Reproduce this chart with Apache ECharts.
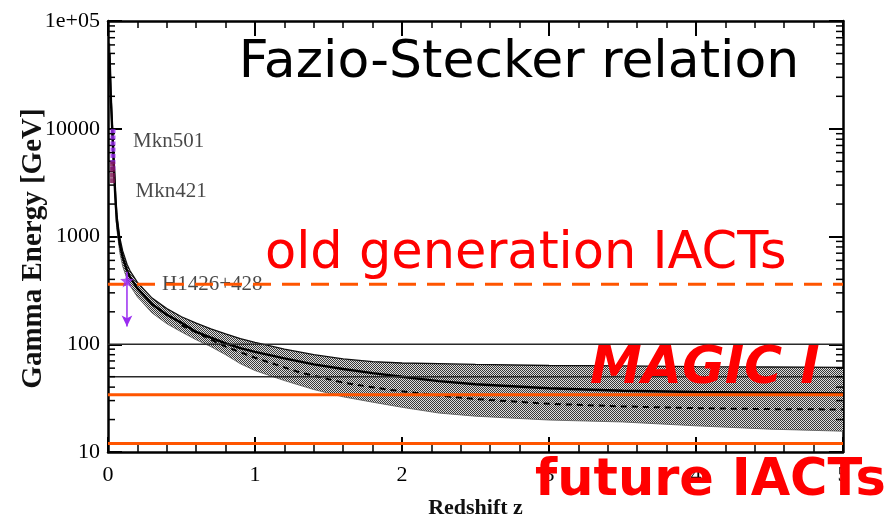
<!DOCTYPE html>
<html>
<head>
<meta charset="utf-8">
<script src="https://cdn.jsdelivr.net/npm/echarts@6/dist/echarts.min.js"></script>
<style>
  html, body { margin: 0; padding: 0; background: #ffffff; }
  #chart { width: 895px; height: 521px; }
</style>
</head>
<body>
<div id="chart"></div>
<script>
// Redshift grid of the gamma-ray horizon curves
const redshift = [0.01, 0.02, 0.03, 0.04, 0.05, 0.06, 0.08, 0.1, 0.13, 0.15, 0.2, 0.3, 0.4, 0.5, 0.6, 0.7, 0.8, 0.9, 1.0, 1.2, 1.4, 1.6, 1.8, 2.0, 2.25, 2.5, 3.0, 3.5, 4.0, 4.5, 5.0];
// Central prediction of the horizon energy [GeV]
const horizonCentral = [50000, 18000, 9000, 4500, 2300, 1400, 850, 640, 480, 420, 330, 235, 188, 158, 130, 115, 102, 92, 85, 74, 65, 59, 54, 50, 45.5, 42.5, 39, 37, 36, 35.5, 35];
// Upper and lower edges of the uncertainty band [GeV]
const horizonUpper = [62000, 21500, 10800, 5400, 2700, 1620, 980, 735, 550, 480, 375, 268, 214, 180, 157, 139, 125, 113, 104, 90, 80, 73, 69, 67, 66, 65, 63.5, 63, 62, 61.5, 61];
const horizonLower = [42000, 15000, 7500, 3750, 1920, 1170, 710, 530, 400, 350, 275, 195, 155, 130, 110, 95, 80, 66, 57, 46, 38, 32.5, 29, 26, 23, 21.5, 19.8, 19, 17.5, 16.3, 15.6];
// Alternative model (dashed)
const dashedRedshift = [0.5, 0.8, 1.0, 1.3, 1.6, 1.9, 2.2, 2.5, 3.0, 3.5, 4.0, 4.5, 5.0];
const horizonDashed = [150, 95, 75, 55, 44, 38, 34, 31, 28, 26.5, 25.5, 25, 24.8];

// Sources
const mkn501Z = 0.034;
const mkn501E = [9500, 8300, 7300, 6400, 5600, 4900, 4300];
const mkn421Z = 0.031;
const mkn421E = [4700, 4200, 3700, 3300];
const h1426Z = 0.129;
const h1426E = 390;
const h1426Range = [470, 146];

// Energy thresholds [GeV]
const oldIactThreshold = 360;
const magicThreshold = 34;
const futureThreshold = 12;
const referenceLevels = [100, 50];

// Axis ticks
const xTicks = [0, 1, 2, 3, 4, 5];
const yDecades = [10, 100, 1000, 10000, 100000];
const yTickLabels = ['10', '100', '1000', '10000', '1e+05'];
const yMinorMultipliers = [2, 3, 4, 5, 6, 7, 8, 9];

const yMinorValues = [];
yDecades.slice(0, -1).forEach(d => yMinorMultipliers.forEach(m => yMinorValues.push(d * m)));

// Stipple fill for the uncertainty band
const stipple = document.createElement('canvas');
stipple.width = 2; stipple.height = 2;
(function () {
  const c = stipple.getContext('2d');
  c.fillStyle = '#dedede'; c.fillRect(0, 0, 2, 2);
  c.fillStyle = '#383838'; c.fillRect(0, 0, 1, 1); c.fillRect(1, 1, 1, 1);
})();

const serif = "'Liberation Serif', 'Times New Roman', serif";
const sans = "'DejaVu Sans', sans-serif";
const orange = '#ff5500';
const red = '#ff0000';
const purple = '#9a2cf0';

const pairs = (xs, ys) => xs.map((x, i) => [x, ys[i]]);
const flat = (v) => [[xTicks[0], v], [xTicks[xTicks.length - 1], v]];

const axisLine = { show: true, onZero: false, lineStyle: { color: '#000', width: 2.5 } };
const majorTick = { show: true, inside: true, length: 15, lineStyle: { color: '#000', width: 2 } };
const minorTick = { show: true, splitNumber: 5, length: 7, lineStyle: { color: '#000', width: 1.5 } };

const chart = echarts.init(document.getElementById('chart'), null, { renderer: 'canvas' });

chart.setOption({
  animation: false,
  backgroundColor: '#ffffff',
  grid: { left: 108, right: 52, top: 21, bottom: 69, show: false, containLabel: false, outerBoundsMode: 'none' },
  xAxis: [
    {
      type: 'value', min: xTicks[0], max: xTicks[xTicks.length - 1], interval: 1, position: 'bottom',
      axisLine, axisTick: majorTick, minorTick, splitLine: { show: false },
      axisLabel: { fontFamily: serif, fontSize: 22, color: '#000', margin: 12 },
      name: 'Redshift z', nameLocation: 'middle', nameGap: 45,
      nameTextStyle: { fontFamily: serif, fontSize: 22, fontWeight: 'bold', color: '#111' }
    },
    {
      type: 'value', min: xTicks[0], max: xTicks[xTicks.length - 1], interval: 1, position: 'top',
      axisLine, axisTick: majorTick, minorTick, splitLine: { show: false },
      axisLabel: { show: false }
    }
  ],
  yAxis: [
    {
      type: 'log', logBase: 10, min: yDecades[0], max: yDecades[yDecades.length - 1], position: 'left',
      axisLine, axisTick: { ...majorTick, length: 14 }, splitLine: { show: false },
      axisLabel: {
        fontFamily: serif, fontSize: 22, color: '#000', margin: 8,
        formatter: (v) => { const i = yDecades.indexOf(v); return i >= 0 ? yTickLabels[i] : ''; }
      },
      name: 'Gamma Energy [GeV]', nameLocation: 'middle', nameGap: 60, nameRotate: 90, nameMoveOverlap: false,
      nameTextStyle: { fontFamily: serif, fontSize: 29, fontWeight: 'bold', color: '#111', padding: [0, 24, 0, 0] }
    },
    {
      type: 'log', logBase: 10, min: yDecades[0], max: yDecades[yDecades.length - 1], position: 'right',
      axisLine, axisTick: { ...majorTick, length: 14 }, splitLine: { show: false },
      axisLabel: { show: false }
    }
  ],
  series: [
    {
      // minor ticks of the log axis on both sides of the frame
      type: 'custom', name: 'y minor ticks', silent: true, z: 6,
      data: yMinorValues,
      renderItem: (params, api) => {
        const v = api.value(0);
        const l = api.coord([xTicks[0], v]);
        const r = api.coord([xTicks[xTicks.length - 1], v]);
        return {
          type: 'group',
          children: [
            { type: 'line', shape: { x1: l[0], y1: l[1], x2: l[0] + 7, y2: l[1] }, style: { stroke: '#000', lineWidth: 1.5 } },
            { type: 'line', shape: { x1: r[0] - 7, y1: r[1], x2: r[0], y2: r[1] }, style: { stroke: '#000', lineWidth: 1.5 } }
          ]
        };
      }
    },
    {
      // uncertainty band of the horizon energy
      type: 'custom', name: 'band', silent: true, z: 2, clip: true,
      data: [0],
      renderItem: (params, api) => {
        const pts = [];
        for (let i = 0; i < redshift.length; i++) pts.push(api.coord([redshift[i], horizonUpper[i]]));
        for (let i = redshift.length - 1; i >= 0; i--) pts.push(api.coord([redshift[i], horizonLower[i]]));
        return { type: 'polygon', shape: { points: pts }, style: { fill: { image: stipple, repeat: 'repeat' }, stroke: null } };
      }
    },
    {
      type: 'line', name: 'upper edge', data: pairs(redshift, horizonUpper), showSymbol: false, z: 3,
      lineStyle: { color: '#111', width: 1.3 }, silent: true
    },
    {
      type: 'line', name: 'lower edge', data: pairs(redshift, horizonLower), showSymbol: false, z: 3,
      lineStyle: { color: '#555', width: 0.8 }, silent: true
    },
    {
      type: 'line', name: 'central', data: pairs(redshift, horizonCentral), showSymbol: false, z: 4,
      lineStyle: { color: '#000', width: 2.4 }, silent: true
    },
    {
      type: 'line', name: 'dashed', data: pairs(dashedRedshift, horizonDashed), showSymbol: false, z: 4,
      lineStyle: { color: '#000', width: 2, type: [6, 5] }, silent: true
    },
    ...referenceLevels.map(v => ({
      type: 'line', name: 'level ' + v, data: flat(v), showSymbol: false, z: 4,
      lineStyle: { color: '#2a2a2a', width: 1.4 }, silent: true
    })),
    {
      // source names, beneath the threshold lines
      type: 'scatter', name: 'source labels', symbolSize: 0, z: 5, silent: true,
      data: [
        { value: [mkn501Z, 7600], name: 'Mkn501', label: { offset: [15, 0] } },
        { value: [mkn421Z, 2600], name: 'Mkn421', label: { offset: [18, 0] } },
        { value: [h1426Z, oldIactThreshold], name: 'H1426+428', label: { offset: [30, 0] } }
      ],
      label: {
        show: true, position: 'right', formatter: '{b}',
        fontFamily: serif, fontSize: 21, color: '#1a1a1a'
      }
    },
    {
      type: 'line', name: 'old generation IACTs', data: flat(oldIactThreshold), showSymbol: false, z: 7,
      lineStyle: { color: orange, width: 3, type: [18, 11] }, silent: true
    },
    {
      type: 'line', name: 'MAGIC I', data: flat(magicThreshold), showSymbol: false, z: 7,
      lineStyle: { color: orange, width: 3 }, silent: true
    },
    {
      type: 'line', name: 'future IACTs', data: flat(futureThreshold), showSymbol: false, z: 7,
      lineStyle: { color: orange, width: 3 }, silent: true
    },
    {
      type: 'scatter', name: 'Mkn501 data', data: mkn501E.map(e => [mkn501Z, e]), z: 8, silent: true,
      symbol: 'rect', symbolSize: [5, 4], itemStyle: { color: purple }
    },
    {
      type: 'scatter', name: 'Mkn421 data', data: mkn421E.map(e => [mkn421Z, e]), z: 8, silent: true,
      symbol: 'rect', symbolSize: [5, 5], itemStyle: { color: '#7a1050' }
    },
    {
      type: 'line', name: 'H1426 range', z: 8, silent: true, showSymbol: true, symbol: 'none',
      data: [
        [h1426Z, h1426Range[0]],
        { value: [h1426Z, h1426Range[1]], symbol: 'arrow', symbolSize: [8, 11], symbolRotate: 180 }
      ],
      lineStyle: { color: purple, width: 1.5 }, itemStyle: { color: purple }
    },
    {
      type: 'scatter', name: 'H1426+428', data: [[h1426Z, h1426E]], z: 9, silent: true,
      symbol: 'path://M0,-10 L2.4,-3.3 9.5,-3.1 3.9,1.3 5.9,8.1 0,4.1 -5.9,8.1 -3.9,1.3 -9.5,-3.1 -2.4,-3.3 Z',
      symbolSize: 14, itemStyle: { color: purple }
    }
  ],
  graphic: [
    {
      type: 'text', x: 519, y: 63, z: 100,
      style: { text: 'Fazio-Stecker relation', font: "52px " + sans, fill: '#000',
               align: 'center', textAlign: 'center', verticalAlign: 'middle', textVerticalAlign: 'middle' }
    },
    {
      type: 'text', x: 265, y: 255, z: 100,
      style: { text: 'old generation IACTs', font: "51px " + sans, fill: red,
               align: 'left', textAlign: 'left', verticalAlign: 'middle', textVerticalAlign: 'middle' }
    },
    {
      type: 'text', x: 590, y: 369, z: 100,
      style: { text: 'MAGIC I', font: "italic bold 52px " + sans, fill: red,
               align: 'left', textAlign: 'left', verticalAlign: 'middle', textVerticalAlign: 'middle' }
    },
    {
      type: 'text', x: 535, y: 482, z: 100,
      style: { text: 'future IACTs', font: "bold 51px " + sans, fill: red,
               align: 'left', textAlign: 'left', verticalAlign: 'middle', textVerticalAlign: 'middle' }
    }
  ]
});
</script>
</body>
</html>
